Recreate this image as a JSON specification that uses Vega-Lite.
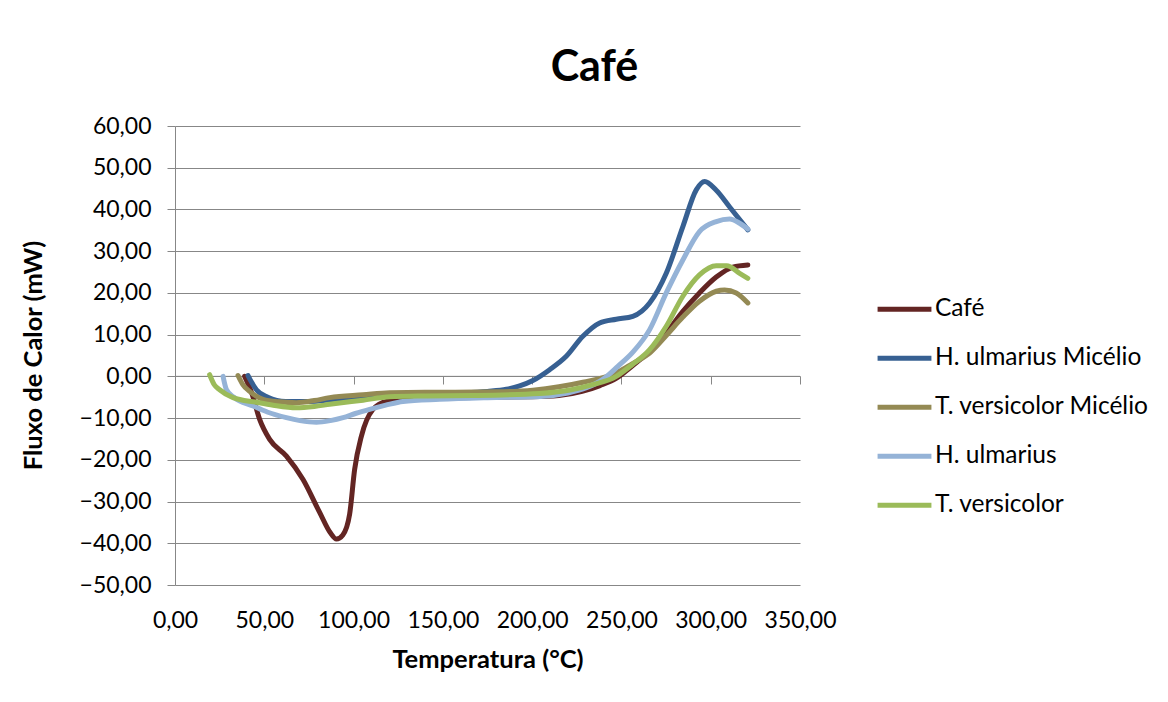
{
  "$schema": "https://vega.github.io/schema/vega-lite/v6.json",
  "width": 625,
  "height": 459,
  "autosize": {"type": "none"},
  "padding": {"left": 175, "top": 126, "right": 368, "bottom": 117},
  "background": "white",
  "config": {
    "view": {"stroke": null},
    "font": "Lato",
    "axis": {"labelFont": "Lato", "titleFont": "Lato", "labelColor": "#000000", "titleColor": "#000000"}
  },
  "title": {
    "text": "Café",
    "font": "Lato",
    "fontSize": 43,
    "fontWeight": "bold",
    "color": "#000000",
    "anchor": "middle",
    "dx": 107,
    "offset": 25
  },
  "datasets": {
    "flux": [
      {"s": "Café", "t": 39, "f": 0},
      {"s": "Café", "t": 43, "f": -4},
      {"s": "Café", "t": 47.4, "f": -10.3},
      {"s": "Café", "t": 53, "f": -15.1},
      {"s": "Café", "t": 62.4, "f": -19.1},
      {"s": "Café", "t": 71.7, "f": -24.7},
      {"s": "Café", "t": 81, "f": -32.6},
      {"s": "Café", "t": 87, "f": -37.5},
      {"s": "Café", "t": 90.4, "f": -39},
      {"s": "Café", "t": 94, "f": -38},
      {"s": "Café", "t": 97.8, "f": -33},
      {"s": "Café", "t": 100.6, "f": -22.3},
      {"s": "Café", "t": 104.4, "f": -14.3},
      {"s": "Café", "t": 110.7, "f": -8},
      {"s": "Café", "t": 118.4, "f": -6},
      {"s": "Café", "t": 130, "f": -5.5},
      {"s": "Café", "t": 150, "f": -5.2},
      {"s": "Café", "t": 175, "f": -5},
      {"s": "Café", "t": 200, "f": -4.9},
      {"s": "Café", "t": 215, "f": -4.6},
      {"s": "Café", "t": 228, "f": -3.6},
      {"s": "Café", "t": 238, "f": -2.2},
      {"s": "Café", "t": 247, "f": -0.5},
      {"s": "Café", "t": 256, "f": 2.5},
      {"s": "Café", "t": 265.8, "f": 6},
      {"s": "Café", "t": 275.1, "f": 10.4},
      {"s": "Café", "t": 284.4, "f": 15.6},
      {"s": "Café", "t": 293.7, "f": 20},
      {"s": "Café", "t": 303.1, "f": 23.8},
      {"s": "Café", "t": 312.4, "f": 26.2},
      {"s": "Café", "t": 320.8, "f": 26.7},

      {"s": "H. ulmarius Micélio", "t": 40.9, "f": 0.2},
      {"s": "H. ulmarius Micélio", "t": 43, "f": -1.5},
      {"s": "H. ulmarius Micélio", "t": 45.6, "f": -3.2},
      {"s": "H. ulmarius Micélio", "t": 52, "f": -5},
      {"s": "H. ulmarius Micélio", "t": 62, "f": -6},
      {"s": "H. ulmarius Micélio", "t": 75, "f": -6},
      {"s": "H. ulmarius Micélio", "t": 90, "f": -5.5},
      {"s": "H. ulmarius Micélio", "t": 110, "f": -5},
      {"s": "H. ulmarius Micélio", "t": 130, "f": -4.5},
      {"s": "H. ulmarius Micélio", "t": 155, "f": -4},
      {"s": "H. ulmarius Micélio", "t": 175, "f": -3.6},
      {"s": "H. ulmarius Micélio", "t": 185.6, "f": -3.1},
      {"s": "H. ulmarius Micélio", "t": 193, "f": -2.3},
      {"s": "H. ulmarius Micélio", "t": 200.4, "f": -1},
      {"s": "H. ulmarius Micélio", "t": 209.8, "f": 1.6},
      {"s": "H. ulmarius Micélio", "t": 219.1, "f": 4.8},
      {"s": "H. ulmarius Micélio", "t": 228.4, "f": 9.6},
      {"s": "H. ulmarius Micélio", "t": 237.8, "f": 12.8},
      {"s": "H. ulmarius Micélio", "t": 247.1, "f": 13.7},
      {"s": "H. ulmarius Micélio", "t": 256.4, "f": 14.4},
      {"s": "H. ulmarius Micélio", "t": 265.8, "f": 17.6},
      {"s": "H. ulmarius Micélio", "t": 275.1, "f": 24.7},
      {"s": "H. ulmarius Micélio", "t": 284.4, "f": 35.9},
      {"s": "H. ulmarius Micélio", "t": 291.9, "f": 44.7},
      {"s": "H. ulmarius Micélio", "t": 296.6, "f": 46.7},
      {"s": "H. ulmarius Micélio", "t": 303.1, "f": 44.6},
      {"s": "H. ulmarius Micélio", "t": 310.6, "f": 40.6},
      {"s": "H. ulmarius Micélio", "t": 320.8, "f": 35.1},

      {"s": "T. versicolor Micélio", "t": 35.3, "f": 0.2},
      {"s": "T. versicolor Micélio", "t": 38, "f": -2},
      {"s": "T. versicolor Micélio", "t": 41.8, "f": -3.6},
      {"s": "T. versicolor Micélio", "t": 49.3, "f": -5.5},
      {"s": "T. versicolor Micélio", "t": 58, "f": -6.1},
      {"s": "T. versicolor Micélio", "t": 68, "f": -6.3},
      {"s": "T. versicolor Micélio", "t": 78, "f": -5.8},
      {"s": "T. versicolor Micélio", "t": 86.6, "f": -5.1},
      {"s": "T. versicolor Micélio", "t": 105.3, "f": -4.4},
      {"s": "T. versicolor Micélio", "t": 120.2, "f": -3.9},
      {"s": "T. versicolor Micélio", "t": 150, "f": -3.8},
      {"s": "T. versicolor Micélio", "t": 180, "f": -3.7},
      {"s": "T. versicolor Micélio", "t": 200.4, "f": -3.3},
      {"s": "T. versicolor Micélio", "t": 215, "f": -2.5},
      {"s": "T. versicolor Micélio", "t": 228.4, "f": -1.4},
      {"s": "T. versicolor Micélio", "t": 247.1, "f": 0.8},
      {"s": "T. versicolor Micélio", "t": 256, "f": 3},
      {"s": "T. versicolor Micélio", "t": 265.8, "f": 5.6},
      {"s": "T. versicolor Micélio", "t": 275.1, "f": 9.8},
      {"s": "T. versicolor Micélio", "t": 284.4, "f": 14.2},
      {"s": "T. versicolor Micélio", "t": 293.7, "f": 18},
      {"s": "T. versicolor Micélio", "t": 303.1, "f": 20.4},
      {"s": "T. versicolor Micélio", "t": 307.8, "f": 20.7},
      {"s": "T. versicolor Micélio", "t": 314.3, "f": 20},
      {"s": "T. versicolor Micélio", "t": 320.8, "f": 17.6},

      {"s": "H. ulmarius", "t": 26.9, "f": 0},
      {"s": "H. ulmarius", "t": 28.8, "f": -3.2},
      {"s": "H. ulmarius", "t": 33, "f": -5},
      {"s": "H. ulmarius", "t": 43.7, "f": -7.1},
      {"s": "H. ulmarius", "t": 52, "f": -8.6},
      {"s": "H. ulmarius", "t": 62.4, "f": -9.9},
      {"s": "H. ulmarius", "t": 70, "f": -10.6},
      {"s": "H. ulmarius", "t": 79.2, "f": -11},
      {"s": "H. ulmarius", "t": 87, "f": -10.6},
      {"s": "H. ulmarius", "t": 94.1, "f": -9.9},
      {"s": "H. ulmarius", "t": 101, "f": -8.9},
      {"s": "H. ulmarius", "t": 109, "f": -7.9},
      {"s": "H. ulmarius", "t": 118, "f": -6.9},
      {"s": "H. ulmarius", "t": 127.7, "f": -6},
      {"s": "H. ulmarius", "t": 148.2, "f": -5.5},
      {"s": "H. ulmarius", "t": 175, "f": -5.1},
      {"s": "H. ulmarius", "t": 205, "f": -4.8},
      {"s": "H. ulmarius", "t": 220, "f": -4},
      {"s": "H. ulmarius", "t": 230, "f": -2.8},
      {"s": "H. ulmarius", "t": 240, "f": -0.6},
      {"s": "H. ulmarius", "t": 248, "f": 2.4},
      {"s": "H. ulmarius", "t": 256.4, "f": 5.8},
      {"s": "H. ulmarius", "t": 265.8, "f": 11.2},
      {"s": "H. ulmarius", "t": 275.1, "f": 20},
      {"s": "H. ulmarius", "t": 284.4, "f": 27.9},
      {"s": "H. ulmarius", "t": 293.7, "f": 34.7},
      {"s": "H. ulmarius", "t": 303.1, "f": 37.1},
      {"s": "H. ulmarius", "t": 310.6, "f": 37.7},
      {"s": "H. ulmarius", "t": 316.2, "f": 36.7},
      {"s": "H. ulmarius", "t": 320.8, "f": 35.3},

      {"s": "T. versicolor", "t": 19.4, "f": 0.4},
      {"s": "T. versicolor", "t": 22, "f": -2},
      {"s": "T. versicolor", "t": 25, "f": -3.2},
      {"s": "T. versicolor", "t": 32.5, "f": -5.1},
      {"s": "T. versicolor", "t": 45.6, "f": -6.2},
      {"s": "T. versicolor", "t": 55, "f": -6.9},
      {"s": "T. versicolor", "t": 68, "f": -7.5},
      {"s": "T. versicolor", "t": 78, "f": -7.2},
      {"s": "T. versicolor", "t": 86.6, "f": -6.7},
      {"s": "T. versicolor", "t": 105.3, "f": -5.7},
      {"s": "T. versicolor", "t": 120.2, "f": -4.9},
      {"s": "T. versicolor", "t": 140, "f": -4.7},
      {"s": "T. versicolor", "t": 166.9, "f": -4.6},
      {"s": "T. versicolor", "t": 204.2, "f": -4.1},
      {"s": "T. versicolor", "t": 222, "f": -3.2},
      {"s": "T. versicolor", "t": 234, "f": -2},
      {"s": "T. versicolor", "t": 247.1, "f": 0},
      {"s": "T. versicolor", "t": 256, "f": 2.8},
      {"s": "T. versicolor", "t": 265.8, "f": 6.4},
      {"s": "T. versicolor", "t": 275.1, "f": 12},
      {"s": "T. versicolor", "t": 284.4, "f": 19.2},
      {"s": "T. versicolor", "t": 293.7, "f": 24.3},
      {"s": "T. versicolor", "t": 303.1, "f": 26.5},
      {"s": "T. versicolor", "t": 309, "f": 26.5},
      {"s": "T. versicolor", "t": 316.2, "f": 24.7},
      {"s": "T. versicolor", "t": 320.8, "f": 23.5}
    ]
  },
  "layer": [
    {
      "data": {"values": [{}]},
      "mark": {"type": "rule", "color": "#878787", "strokeWidth": 1},
      "encoding": {
        "x": {
          "datum": 0,
          "type": "quantitative",
          "scale": {"domain": [0, 350], "nice": false},
          "axis": {
            "orient": "bottom",
            "offset": -209,
            "values": [0, 50, 100, 150, 200, 250, 300, 350],
            "labels": false,
            "domain": false,
            "grid": false,
            "ticks": true,
            "tickSize": 8,
            "tickColor": "#878787",
            "tickWidth": 1,
            "title": null
          }
        },
        "x2": {"datum": 350},
        "y": {"datum": 0, "type": "quantitative"}
      }
    },
    {
      "data": {"name": "flux"},
      "mark": {"type": "line", "interpolate": "monotone", "strokeWidth": 5, "strokeCap": "round", "strokeJoin": "round"},
      "encoding": {
        "x": {
          "field": "t",
          "type": "quantitative",
          "scale": {"domain": [0, 350], "nice": false},
          "axis": {
            "orient": "bottom",
            "values": [0, 50, 100, 150, 200, 250, 300, 350],
            "labelExpr": "replace(format(datum.value, '.2f'), '.', ',')",
            "labelFontSize": 23,
            "labelPadding": 24,
            "labelFlush": false,
            "labelOverlap": false,
            "domain": false,
            "ticks": false,
            "tickSize": 0,
            "grid": false,
            "title": "Temperatura (°C)",
            "titleFontSize": 25.5,
            "titleFontWeight": "bold",
            "titlePadding": 15
          }
        },
        "y": {
          "field": "f",
          "type": "quantitative",
          "scale": {"domain": [-50, 60], "nice": false, "zero": false},
          "axis": {
            "values": [-50, -40, -30, -20, -10, 0, 10, 20, 30, 40, 50, 60],
            "labelExpr": "replace(format(datum.value, '.2f'), '.', ',')",
            "labelFontSize": 23,
            "labelPadding": 16,
            "labelOverlap": false,
            "labelFlush": false,
            "domain": true,
            "domainColor": "#878787",
            "domainWidth": 1,
            "ticks": true,
            "tickSize": 8,
            "tickColor": "#878787",
            "tickWidth": 1,
            "grid": true,
            "gridColor": "#878787",
            "gridWidth": 1,
            "title": "Fluxo de Calor (mW)",
            "titleFontSize": 25.5,
            "titleFontWeight": "bold",
            "titleX": -142,
            "titleY": 229,
            "titleAlign": "center",
            "titleBaseline": "middle"
          }
        },
        "color": {
          "field": "s",
          "type": "nominal",
          "sort": ["Café", "H. ulmarius Micélio", "T. versicolor Micélio", "H. ulmarius", "T. versicolor"],
          "scale": {
            "domain": ["Café", "H. ulmarius Micélio", "T. versicolor Micélio", "H. ulmarius", "T. versicolor"],
            "range": ["#632523", "#376092", "#948A54", "#95B3D7", "#9BBB59"]
          },
          "legend": {
            "title": null,
            "orient": "none",
            "legendX": 700,
            "legendY": 159,
            "symbolType": "stroke",
            "symbolSize": 2900,
            "symbolStrokeWidth": 5,
            "labelFont": "Lato",
            "labelFontSize": 24.5,
            "labelColor": "#000000",
            "labelOffset": 1,
            "clipHeight": 48.5,
            "rowPadding": 0,
            "labelLimit": 400
          }
        }
      }
    }
  ],
  "resolve": {"axis": {"x": "independent"}}
}
